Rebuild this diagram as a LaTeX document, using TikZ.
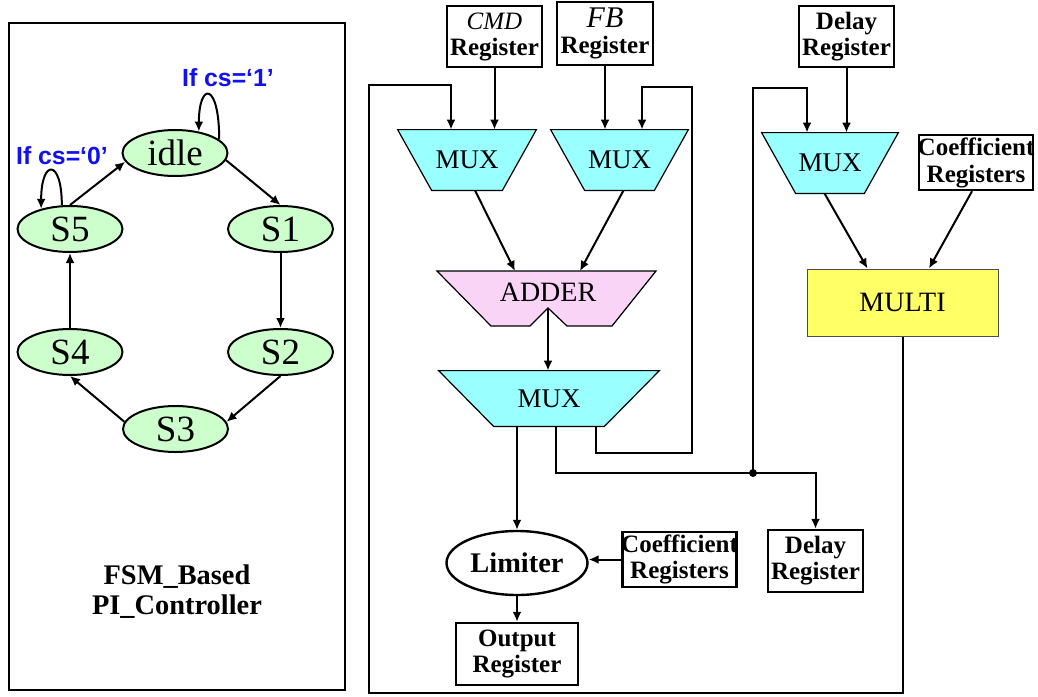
\documentclass[tikz,border=0pt]{standalone}
\usepackage{fontspec}
\setmainfont{Liberation Serif}
\newfontfamily\condfont{Liberation Sans}
\usetikzlibrary{shapes,arrows.meta,backgrounds}

\definecolor{muxcyan}{HTML}{99FFFF}
\definecolor{addpink}{HTML}{FAD4F6}
\definecolor{stategreen}{HTML}{CCFFCC}
\definecolor{multiyellow}{HTML}{FFFF66}
\definecolor{condblue}{HTML}{1010F0}

\tikzset{
  wire/.style={line width=1pt},
  arr/.style={wire,-{Latex[length=5pt,width=4.5pt]}},
  fsmstate/.style={ellipse, draw, line width=1pt, fill=stategreen, inner sep=0pt,
    minimum width=52.5pt, minimum height=23pt, font=\fontsize{18.5}{20}\selectfont},
  cond/.style={text=condblue, font=\condfont\bfseries\fontsize{12.4}{13}\selectfont},
  muxbox/.style={inner sep=0pt, font=\fontsize{13.5}{14}\selectfont},
  muxfill/.style={draw, line width=0.6pt, fill=muxcyan},
  regbox/.style={draw, line width=1.2pt, fill=white, align=center, inner sep=0pt,
    font=\bfseries\fontsize{12.5}{13}\selectfont},
}

% trapezoid under a mux node: #1 node name, #2 inset of the bottom corners
\newcommand{\muxbody}[2]{%
  \filldraw[muxfill] (#1.north west) -- (#1.north east)
    -- ([xshift=-#2]#1.south east) -- ([xshift=#2]#1.south west) -- cycle;}

\begin{document}
\begin{tikzpicture}[x=0.5pt,y=-0.5pt]
    \useasboundingbox (0,0) rectangle (1038,696);

    % FSM part
    \draw[line width=1pt] (9,23) rectangle (345,690);
    \node[fsmstate] (idle) at (175,153) {idle};
    \node[fsmstate] (s1) at (280.5,229) {S1};
    \node[fsmstate] (s2) at (280.5,352) {S2};
    \node[fsmstate] (s3) at (175.5,429) {S3};
    \node[fsmstate] (s4) at (70,352) {S4};
    \node[fsmstate] (s5) at (70,229) {S5};
    \node[cond] (cs1) at (228,78) {If cs=‘1’};
    \node[cond] (cs0) at (62,156) {If cs=‘0’};

    \draw[arr] (idle.17) .. controls +(0,-58) and +(0,-50) .. (idle.42);
    \draw[arr] (s5.109) .. controls +(0,-47) and +(0,-50) .. (s5.145);
    \draw[arr] (idle.-8) -- (s1.north);
    \draw[arr] (s1) -- (s2);
    \draw[arr] (s2.south) -- (s3.8);
    \draw[arr] (s3.172) -- (s4.south);
    \draw[arr] (s4) -- (s5);
    \draw[arr] (s5.north) -- (idle.190);

    \node[font=\bfseries\fontsize{14.2}{15}\selectfont, align=center] (title) at (177,592)
        {FSM\_Based\\PI\_Controller};

    % datapath
    \node[regbox, minimum width=47.5pt, minimum height=30.5pt] (cmd) at (494.5,36.5)
        {\mdseries\itshape CMD\\Register};
    \node[regbox, minimum width=48pt, minimum height=31.5pt] (fb) at (605,33.5)
        {\mdseries\itshape\fontsize{15}{13}\selectfont FB\\Register};
    \node[regbox, minimum width=47.5pt, minimum height=30.5pt] (dly1) at (846.5,36.5)
        {Delay\\Register};
    \node[regbox, inner xsep=-0.6pt, minimum height=27.5pt,
          font=\bfseries\fontsize{12.5}{13.5}\selectfont] (coef1) at (976,162.5)
        {Coefficient\\Registers};

    \node[muxbox, minimum width=69pt, minimum height=30pt] (mux1) at (467,160) {MUX};
    \node[muxbox, minimum width=68.5pt, minimum height=30pt] (mux2) at (619.5,160) {MUX};
    \node[muxbox, minimum width=110pt, minimum height=27.5pt] (mux3) at (549,398.5) {MUX};
    \node[muxbox, minimum width=68pt, minimum height=30pt] (mux4) at (830,163) {MUX};
    \begin{pgfonlayer}{background}
      \muxbody{mux1}{17pt}
      \muxbody{mux2}{17pt}
      \muxbody{mux3}{27.5pt}
      \muxbody{mux4}{17pt}
    \end{pgfonlayer}

    \newcommand{\adderpath}{(437,271) -- (656,271) -- (612,326) -- (567,326) -- (548,308) -- (530,326) -- (491,326) -- cycle}
    \filldraw[fill=addpink, line width=0.6pt] \adderpath;
    \node[font=\fontsize{14}{14}\selectfont] (adder) at (548,292) {ADDER};
    \coordinate (addin1) at (515,271);
    \coordinate (addin2) at (580,271);
    \coordinate (addout) at (548,308);

    \node[draw=black!70, line width=0.5pt, fill=multiyellow, minimum width=95.5pt, minimum height=33.5pt,
          font=\fontsize{14}{14}\selectfont] (multi) at (902.5,302.5) {MULTI};

    \node[ellipse, draw, line width=1.2pt, minimum width=70.5pt, minimum height=32pt, inner sep=0pt,
          font=\bfseries\fontsize{14.2}{15}\selectfont] (lim) at (517,563) {Limiter};
    \node[regbox, inner xsep=-0.6pt, minimum height=27.5pt] (coef2) at (679.5,559.5)
        {Coefficient\\Registers};
    \node[regbox, minimum width=47.5pt, minimum height=31pt] (dly2) at (815.5,561)
        {Delay\\Register};
    \node[regbox, minimum width=61pt, minimum height=31pt] (out) at (517,654)
        {Output\\Register};

    \coordinate (jn) at (753,473);
    \coordinate (ret0) at (369,693);
    \coordinate (top1) at (451,85);
    \coordinate (ret1) at (692,453);
    \coordinate (ret2) at (642,87);
    \coordinate (top3) at (807,88);

    \draw[arr] (cmd.south) -- (cmd.south |- mux1.north);
    \draw[arr] (fb.south) -- (fb.south |- mux2.north);
    \draw[arr] (dly1.south) -- (dly1.south |- mux4.north);
    \draw[arr] ([xshift=4pt]mux1.south) -- (addin1);
    \draw[arr] ([xshift=2pt]mux2.south) -- (addin2);
    \draw[arr] (addout) -- (addout |- mux3.north);
    \draw[arr] ([xshift=-2.75pt]mux4.south) -- ([xshift=-17.5pt]multi.north);
    \draw[arr] ([xshift=-2pt]coef1.south) -- ([xshift=13.25pt]multi.north);

    \draw[arr] (mux3.south -| lim) -- (lim);
    \draw[arr] ([xshift=3.25pt]mux3.south) |- (jn) -| (dly2.north);
    \draw[arr] ([xshift=23.5pt]mux3.south) |- (ret1) |- (ret2) -- (ret2 |- mux2.north);
    \draw[arr] (jn) |- (top3) -- (top3 |- mux4.north);
    \draw[arr] (multi.south) |- (ret0) |- (top1) -- (top1 |- mux1.north);
    \fill (jn) circle (2pt);

    \draw[arr] (coef2.west) -- (coef2.west -| lim.east);
    \draw[arr] (lim) -- (out);
\end{tikzpicture}
\end{document}
